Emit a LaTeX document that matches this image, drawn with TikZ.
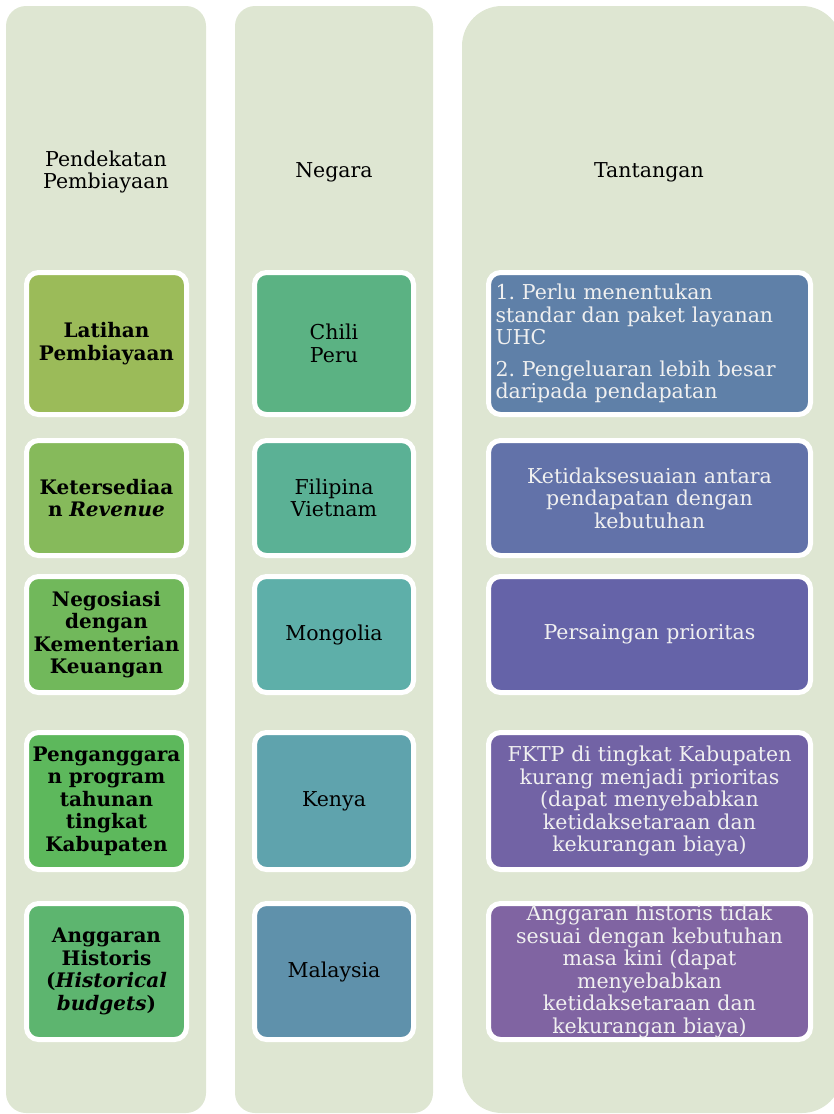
\documentclass[tikz,border=0pt]{standalone}
\usepackage{fontspec}
\setmainfont{DejaVu Serif}
\usetikzlibrary{positioning}
\frenchspacing
\definecolor{colbg}{HTML}{DEE6D2}
\definecolor{pa1}{HTML}{9BBB59}
\definecolor{pa2}{HTML}{86BA5B}
\definecolor{pa3}{HTML}{71B85B}
\definecolor{pa4}{HTML}{5DB85C}
\definecolor{pa5}{HTML}{5DB56F}
\definecolor{ne1}{HTML}{5BB283}
\definecolor{ne2}{HTML}{5BB195}
\definecolor{ne3}{HTML}{5EAFA9}
\definecolor{ne4}{HTML}{5FA3AD}
\definecolor{ne5}{HTML}{5F91AB}
\definecolor{ta1}{HTML}{5F80A8}
\definecolor{ta2}{HTML}{6272A9}
\definecolor{ta3}{HTML}{6563A8}
\definecolor{ta4}{HTML}{7263A5}
\definecolor{ta5}{HTML}{8064A2}
\tikzstyle{column} = [fill=colbg, rounded corners=20pt]
\tikzstyle{header} = [align=center, font=\fontsize{20.5}{22.5}\selectfont]
\tikzstyle{cell} = [rectangle, rounded corners=12pt, draw=white, line width=5pt, inner sep=0pt, align=center, font=\fontsize{20.5}{22.5}\selectfont]
\tikzstyle{approach} = [cell, minimum width=160pt, text width=160pt, font=\bfseries\fontsize{20}{22.5}\selectfont]
\tikzstyle{country} = [cell, minimum width=159pt, text width=159pt]
\tikzstyle{challenge} = [cell, minimum width=322pt, text width=322pt, text=white!94!black]

\begin{document}
\begin{tikzpicture}[x=1pt,y=-1pt]
\useasboundingbox (0,0) rectangle (834,1114);
\clip (0,0) rectangle (834,1114);
% background columns
\fill[column] (6,6) rectangle (206,1113);
\fill[column] (235,6) rectangle (433,1113);
\fill[column, rounded corners=40pt] (462,6) rectangle (842,1113);

% headers
\node (h1) [header] at (106,172) {Pendekatan\\Pembiayaan};
\node (h2) [header] at (334,172) {Negara};
\node (h3) [header] at (649,172) {Tantangan};

% financing approaches
\node (p1) [approach, fill=pa1, minimum height=142pt] at (106.5,343.5) {Latihan\\Pembiayaan};
\node (p2) [approach, fill=pa2, minimum height=115pt] at (106.5,498) {Ketersediaa\\n \textit{Revenue}};
\node (p3) [approach, fill=pa3, minimum height=116pt] at (106.5,634.5) {Negosiasi\\dengan\\Kementerian\\Keuangan};
\node (p4) [approach, fill=pa4, minimum height=137pt] at (106.5,801) {Penganggara\\n program\\tahunan\\tingkat\\Kabupaten};
\node (p5) [approach, fill=pa5, minimum height=136pt] at (106.5,971.5) {Anggaran\\Historis\\(\textit{Historical}\\\textit{budgets})};

% countries
\node (n1) [country, fill=ne1, minimum height=142pt] at (334,343.5) {Chili\\Peru};
\node (n2) [country, fill=ne2, minimum height=115pt] at (334,498) {Filipina\\Vietnam};
\node (n3) [country, fill=ne3, minimum height=116pt] at (334,634.5) {Mongolia};
\node (n4) [country, fill=ne4, minimum height=137pt] at (334,801) {Kenya};
\node (n5) [country, fill=ne5, minimum height=136pt] at (334,971.5) {Malaysia};

% challenges
\node (t1) [challenge, fill=ta1, minimum height=142pt, align=left, text width=308pt] at (649.5,343.5) {1. Perlu menentukan\\standar dan paket layanan\\UHC\\[9pt]2. Pengeluaran lebih besar\\daripada pendapatan};
\node (t2) [challenge, fill=ta2, minimum height=115pt] at (649.5,498) {Ketidaksesuaian antara\\pendapatan dengan\\kebutuhan};
\node (t3) [challenge, fill=ta3, minimum height=116pt] at (649.5,634.5) {Persaingan prioritas};
\node (t4) [challenge, fill=ta4, minimum height=137pt] at (649.5,801) {FKTP di tingkat Kabupaten\\kurang menjadi prioritas\\(dapat menyebabkan\\ketidaksetaraan dan\\kekurangan biaya)};
\node (t5) [challenge, fill=ta5, minimum height=136pt] at (649.5,971.5) {Anggaran historis tidak\\sesuai dengan kebutuhan\\masa kini (dapat\\menyebabkan\\ketidaksetaraan dan\\kekurangan biaya)};
\end{tikzpicture}
\end{document}
